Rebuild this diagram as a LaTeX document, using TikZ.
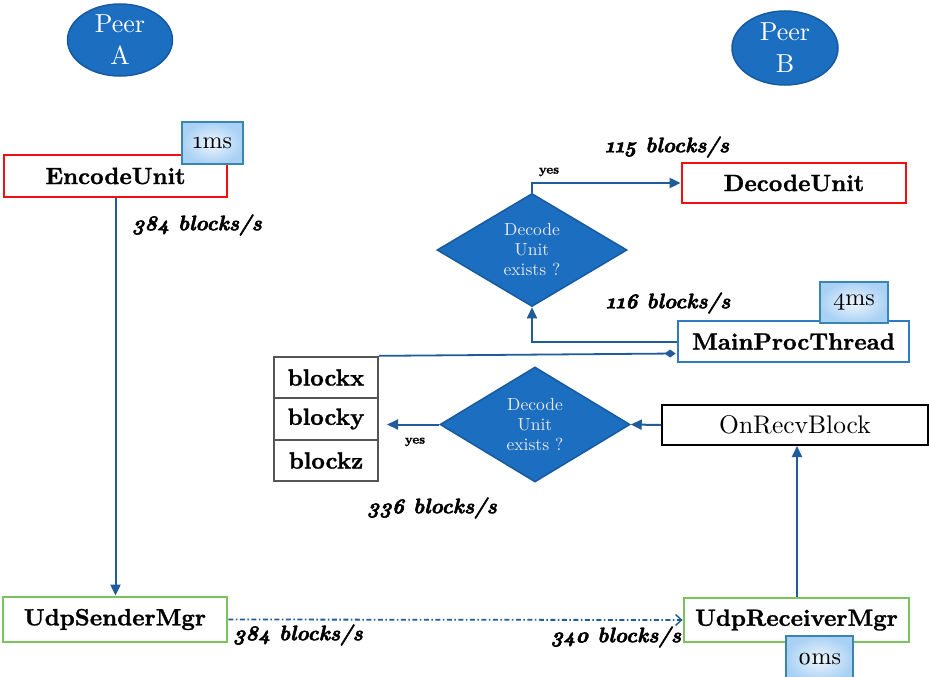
\documentclass[tikz,border=0pt]{standalone}
\usepackage{fontspec}
\setmainfont{lmroman10-regular.otf}[
  BoldFont=lmroman10-bold.otf,
  ItalicFont=lmroman10-italic.otf,
  BoldItalicFont=lmroman10-bolditalic.otf,
  BoldFeatures={FakeBold=1.2},
  BoldItalicFeatures={FakeBold=2.5},
  Numbers=OldStyle]
\usetikzlibrary{shapes.geometric,arrows.meta,calc}

\definecolor{peerblue}{HTML}{1C6EC1}
\definecolor{peeredge}{HTML}{175A9E}
\definecolor{linkblue}{HTML}{1F5C99}
\definecolor{boxgreen}{HTML}{7CC35B}
\definecolor{boxred}{HTML}{F20F0F}
\definecolor{procblue}{HTML}{2E7BC4}
\definecolor{msedge}{HTML}{3A86B0}
\definecolor{msin}{HTML}{EEF6FE}
\definecolor{msout}{HTML}{A9D1F4}
\definecolor{pale}{HTML}{E8E8E8}
\definecolor{tablegray}{HTML}{555555}

\tikzset{
  peer/.style={ellipse, draw=peeredge, line width=1.5pt, fill=peerblue,
    text=white, align=center, inner sep=0pt,
    font=\fontsize{26}{32}\selectfont},
  unitbox/.style={rectangle, line width=2.8pt, fill=white, inner sep=0pt,
    font=\fontsize{23.5}{27}\selectfont\bfseries},
  plainbox/.style={rectangle, draw=black, line width=2pt, fill=white,
    inner sep=0pt, font=\fontsize{25.5}{29}\selectfont},
  cellbox/.style={rectangle, draw=tablegray, line width=1.8pt, fill=white,
    minimum width=104pt, minimum height=41.5pt, inner sep=0pt,
    font=\fontsize{23.5}{27}\selectfont\bfseries},
  msbox/.style={rectangle, draw=msedge, line width=1.4pt,
    inner color=msin, outer color=msout, inner sep=0pt,
    font=\fontsize{24}{27}\selectfont},
  decision/.style={diamond, draw=peeredge, line width=1.5pt, fill=peerblue,
    text=pale, align=center, inner sep=0pt,
    minimum width=190pt, minimum height=113pt,
    font=\fontsize{17.5}{20}\selectfont},
  rate/.style={inner sep=0pt, font=\fontsize{21}{24}\selectfont\bfseries\itshape},
  yeslabel/.style={inner sep=0pt, font=\fontsize{13}{15}\selectfont\bfseries},
  arr/.style={draw=linkblue, line width=2pt,
    -{Triangle[length=11pt,width=10pt]}},
  dotarr/.style={draw=linkblue, line width=1.8pt, dash pattern=on 5pt off 2.5pt on 1.5pt off 2.5pt,
    -{Straight Barb[length=6pt,width=11pt,line width=1.4pt]}},
  diaarr/.style={draw=linkblue, line width=1.8pt,
    -{Diamond[length=11pt,width=8pt]}},
}

\begin{document}
\begin{tikzpicture}[x=1pt,y=-1pt]
\useasboundingbox (0,0) rectangle (929,677);
\clip (0,0) rectangle (929,677);

% peers
\node[peer, minimum width=105pt, minimum height=72pt] (peerA) at (120,40) {Peer\\A};
\node[peer, minimum width=106pt, minimum height=74pt] (peerB) at (785,48) {Peer\\B};

% sender side
\node[unitbox, draw=boxred, minimum width=223pt, minimum height=42pt] (encode) at (115.5,176) {EncodeUnit};
\node[msbox, minimum width=61pt, minimum height=42pt] (ms1) at (212.5,143) {1ms};
\node[unitbox, draw=boxgreen, minimum width=224pt, minimum height=45pt] (sender) at (115,619.5) {UdpSenderMgr};

% receiver side
\node[unitbox, draw=boxred, minimum width=224pt, minimum height=40pt] (decode) at (794,183) {DecodeUnit};
\node[decision] (dia1) at (532,250) {Decode\\Unit\\exists ?};
\node[unitbox, draw=procblue, minimum width=231pt, minimum height=41pt] (mainproc) at (793.5,341.5) {MainProcThread};
\node[msbox, minimum width=68pt, minimum height=41pt] (ms4) at (854,302.5) {4ms};

\node[cellbox] (blockx) at (326,377.5) {blockx};
\node[cellbox] (blocky) at (326,419) {blocky};
\node[cellbox] (blockz) at (326,460.5) {blockz};

\node[decision, minimum height=115pt] (dia2) at (535,424.5) {Decode\\Unit\\exists ?};
\node[plainbox, minimum width=266pt, minimum height=40pt] (onrecv) at (795,425) {OnRecvBlock};

\node[unitbox, draw=boxgreen, minimum width=225pt, minimum height=44pt] (receiver) at (796.5,620) {UdpReceiverMgr};
\node[msbox, minimum width=67pt, minimum height=46pt] (ms0) at (819.5,659) {0ms};

\coordinate (keep) at (387,424.5);

% connectors
\draw[arr] (encode.south) -- (encode.south |- sender.north);
\draw[dotarr] (sender.east) -- (receiver.west);
\draw[arr] ([xshift=0.5pt]receiver.north) -- ([xshift=0.5pt]receiver.north |- onrecv.south);
\draw[arr] (onrecv.west) -- (dia2.east);
\draw[arr] (dia2.west) -- (keep);
\draw[arr] (mainproc.west) -| (dia1.south);
\draw[arr] (dia1.north) |- (decode.west);
\draw[diaarr] (blockx.north east) -- ([xshift=-1pt,yshift=-12pt]mainproc.west);

% rates and branch labels
\node[rate] (r384a) at (197,225) {384 blocks/s};
\node[rate] (r115) at (667,147) {115 blocks/s};
\node[rate] (r116) at (668,303) {116 blocks/s};
\node[rate] (r336) at (432,508) {336 blocks/s};
\node[rate] (r384b) at (298,635) {384 blocks/s};
\node[rate] (r340) at (616,637) {340 blocks/s};
\node[yeslabel] (yes1) at (549,172) {yes};
\node[yeslabel] (yes2) at (415,442) {yes};
\end{tikzpicture}
\end{document}
